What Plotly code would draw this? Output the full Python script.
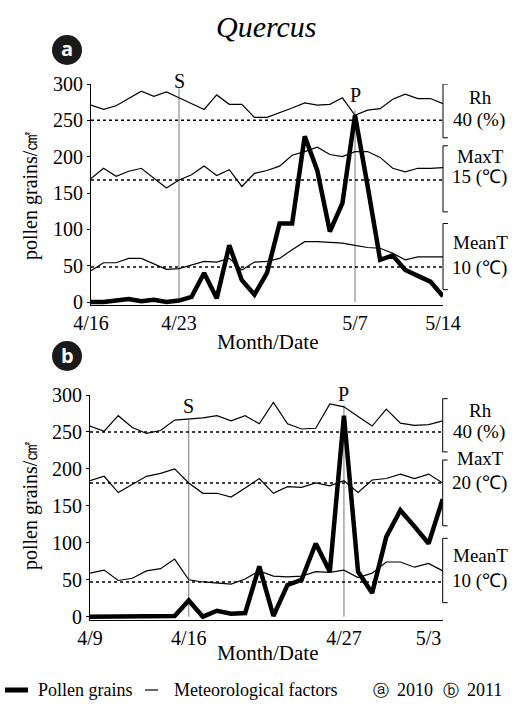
import plotly.graph_objects as go
import pandas as pd

# ---------------- data ----------------
# Panel a (2010): 4/16 .. 5/14, values on the pollen-axis scale
dates_a = pd.date_range("2010-04-16", "2010-05-14").strftime("%Y-%m-%d").tolist()
pollen_a = [0, 0, 2, 4, 1, 3, 0, 2, 7, 40, 5, 78, 30, 10, 40, 108, 108, 228, 181, 97,
            136, 257, 160, 58, 64, 44, 36, 28, 8]
rh_a = [271, 265, 270, 280, 290, 283, 289, 281, 273, 265, 285, 272, 272, 254, 254, 260,
        267, 274, 271, 272, 281, 257, 264, 266, 279, 286, 280, 280, 273]
maxt_a = [170, 184, 173, 180, 184, 170, 157, 168, 175, 187, 174, 182, 159, 177, 181, 187,
          202, 207, 213, 203, 200, 207, 207, 199, 184, 179, 184, 184, 185]
meant_a = [43, 54, 54, 60, 60, 52, 45, 46, 51, 56, 55, 60, 44, 55, 56, 60, 72, 83, 83, 82,
           81, 78, 75, 74, 67, 58, 62, 62, 62]
ref_a = [250, 168, 48]          # dotted reference levels: Rh 40 %, MaxT 15 C, MeanT 10 C
ticks_a = ["2010-04-16", "2010-04-23", "2010-05-07", "2010-05-14"]
ticktext_a = ["4/16", "4/23", "5/7", "5/14"]
start_a, peak_a = "2010-04-23", "2010-05-07"
reflabels_a = [("Rh", "40 (%)"), ("MaxT", "15 (℃)"), ("MeanT", "10 (℃)")]

# Panel b (2011): 4/9 .. 5/4
dates_b = pd.date_range("2011-04-09", "2011-05-04").strftime("%Y-%m-%d").tolist()
pollen_b = [0, 0, 0, 0, 0, 1, 1, 22, 0, 8, 4, 5, 68, 1, 43, 50, 99, 61, 272, 61, 32, 108,
            144, 122, 99, 159]
rh_b = [258, 251, 272, 256, 248, 252, 266, 267, 269, 272, 265, 272, 261, 290, 261, 254,
        255, 288, 284, 271, 258, 281, 262, 259, 260, 265]
maxt_b = [184, 190, 168, 179, 190, 194, 200, 181, 167, 167, 162, 174, 187, 167, 176, 175,
          181, 177, 184, 168, 185, 187, 193, 187, 193, 181]
meant_b = [59, 63, 49, 52, 62, 65, 78, 50, 47, 45, 44, 51, 62, 55, 54, 55, 61, 60, 63, 53,
           59, 74, 74, 67, 72, 62]
ref_b = [250, 181, 47]
ticks_b = ["2011-04-09", "2011-04-16", "2011-04-27", "2011-05-03"]
ticktext_b = ["4/9", "4/16", "4/27", "5/3"]
start_b, peak_b = "2011-04-16", "2011-04-27"
reflabels_b = [("Rh", "40 (%)"), ("MaxT", "20 (℃)"), ("MeanT", "10 (℃)")]

yticks = [0, 50, 100, 150, 200, 250, 300]

# ---------------- layout helpers ----------------
W, H = 516, 712
SERIF = "Liberation Serif"


def px(x):
    return x / W


def py(y):
    return 1 - y / H


def ann(text, x, y, size=17, family=SERIF, xanchor="center", yanchor="middle", **kw):
    d = dict(text=text, xref="paper", yref="paper", x=px(x), y=py(y), showarrow=False,
             xanchor=xanchor, yanchor=yanchor,
             font=dict(family=family, size=size, color="black"))
    d.update(kw)
    return d


fig = go.Figure()

panels = [
    dict(x="x", y="y", dates=dates_a, pollen=pollen_a, mets=[rh_a, maxt_a, meant_a],
         ref=ref_a, ticks=ticks_a, ticktext=ticktext_a, start=start_a, peak=peak_a,
         xdom=[px(91), px(443)], y0px=302, y300px=84, labels=reflabels_a,
         brackets=[(300, 226), (215, 124), (108, 17)], sline=294, pline=264,
         slabel=81, plabel=95, label_y=[(97, 120), (156, 177), (242, 268)],
         circle=(67, 50, "a"), mdate=342, ytitle=196),
    dict(x="x2", y="y2", dates=dates_b, pollen=pollen_b, mets=[rh_b, maxt_b, meant_b],
         ref=ref_b, ticks=ticks_b, ticktext=ticktext_b, start=start_b, peak=peak_b,
         xdom=[px(90), px(442.7)], y0px=616.7, y300px=395, labels=reflabels_b,
         brackets=[(295, 223), (212, 123), (106, 19)], sline=266, pline=286,
         slabel=406, plabel=394, label_y=[(410, 432), (458, 483), (555, 581)],
         circle=(67, 356, "b"), mdate=653, ytitle=506),
]

shapes = []
annotations = []

for i, p in enumerate(panels):
    xa = "xaxis" if i == 0 else "xaxis2"
    ya = "yaxis" if i == 0 else "yaxis2"
    scale = (p["y0px"] - p["y300px"]) / 300.0
    ymin = -4
    bottom_px = p["y0px"] - ymin * scale
    ydom = [py(bottom_px), py(p["y300px"])]

    for met in p["mets"]:
        fig.add_trace(go.Scatter(x=p["dates"], y=met, mode="lines", xaxis=p["x"], yaxis=p["y"],
                                 line=dict(color="black", width=1.2), showlegend=False,
                                 hoverinfo="skip"))
    fig.add_trace(go.Scatter(x=p["dates"], y=p["pollen"], mode="lines", xaxis=p["x"], yaxis=p["y"],
                             line=dict(color="black", width=4.5), showlegend=False))

    fig.update_layout({
        xa: dict(domain=p["xdom"], anchor=p["y"], type="date", automargin=False,
                 range=[p["dates"][0], p["dates"][-1]], tickvals=p["ticks"],
                 ticktext=p["ticktext"], showline=True, linecolor="black", linewidth=1.2,
                 showgrid=False, zeroline=False, ticks="",
                 tickfont=dict(family=SERIF, size=20, color="black")),
        ya: dict(domain=ydom, anchor=p["x"], range=[ymin, 300], tickvals=yticks,
                 automargin=False,
                 showline=True, linecolor="black", linewidth=1.2, showgrid=False,
                 zeroline=False, ticks="outside", ticklen=3, tickcolor="black",
                 tickfont=dict(family=SERIF, size=20, color="black")),
    })

    xr = p["x"]
    yr = p["y"]
    # dotted reference levels
    for lvl in p["ref"]:
        shapes.append(dict(type="line", xref=f"{xr} domain", yref=yr, x0=0, x1=1, y0=lvl, y1=lvl,
                           line=dict(color="black", width=1.5, dash="dot")))
    # right-side brackets
    for (top, bot) in p["brackets"]:
        shapes.append(dict(type="line", xref=f"{xr} domain", yref=yr, x0=1, x1=1, y0=bot, y1=top,
                           line=dict(color="black", width=1)))
        for v in (top, bot):
            shapes.append(dict(type="line", xref=f"{xr} domain", yref=yr, x0=1, x1=1.014,
                               y0=v, y1=v, line=dict(color="black", width=1)))
    # S and P lines
    shapes.append(dict(type="line", xref=xr, yref=yr, x0=p["start"], x1=p["start"], y0=0,
                       y1=p["sline"], line=dict(color="#777777", width=1), layer="below"))
    shapes.append(dict(type="line", xref=xr, yref=yr, x0=p["peak"], x1=p["peak"], y0=0,
                       y1=p["pline"], line=dict(color="#777777", width=1), layer="below"))
    annotations.append(dict(text="S", xref=xr, yref="paper", x=p["start"], y=py(p["slabel"]),
                            showarrow=False, font=dict(family=SERIF, size=20, color="black"),
                            xanchor="center", yanchor="middle"))
    annotations.append(dict(text="P", xref=xr, yref="paper", x=p["peak"], y=py(p["plabel"]),
                            showarrow=False, font=dict(family=SERIF, size=20, color="black"),
                            xanchor="center", yanchor="middle"))
    # right labels
    for (name, val), (yn, yv) in zip(p["labels"], p["label_y"]):
        annotations.append(ann(name, 480, yn, size=19))
        annotations.append(ann(val, 479, yv, size=19))
    # circled panel letter
    cx, cy, letter = p["circle"]
    shapes.append(dict(type="circle", xref="paper", yref="paper", x0=px(cx - 15), x1=px(cx + 15),
                       y0=py(cy + 15), y1=py(cy - 15), fillcolor="#1a1a1a",
                       line=dict(color="#1a1a1a", width=0)))
    annotations.append(ann(f"<b>{letter}</b>", cx, cy - 1, size=20, family="Open Sans",
                           font=dict(family="Open Sans", size=20, color="white")))
    # axis titles
    annotations.append(ann("Month/Date", 267, p["mdate"], size=21))
    annotations.append(ann("pollen grains/㎠", 30, p["ytitle"], size=20, textangle=-90))

# title
annotations.append(ann("<i>Quercus</i>", 266, 27, size=30))

# legend
LY = 690
shapes.append(dict(type="line", xref="paper", yref="paper", x0=px(5), x1=px(28), y0=py(LY),
                   y1=py(LY), line=dict(color="black", width=5)))
shapes.append(dict(type="line", xref="paper", yref="paper", x0=px(145), x1=px(158), y0=py(LY),
                   y1=py(LY), line=dict(color="black", width=1.2)))
for txt, x0 in [("Pollen grains", 36), ("Meteorological factors", 172)]:
    annotations.append(ann(txt, x0, LY, size=18, xanchor="left"))
for sym, txt, x0 in [("ⓐ", "2010", 371), ("ⓑ", "2011", 441)]:
    annotations.append(ann(sym, x0, LY, size=16, family="DejaVu Sans", xanchor="left"))
    annotations.append(ann(txt, x0 + 24, LY, size=18, xanchor="left"))

fig.update_layout(width=W, height=H,
                  margin=dict(l=0, r=0, t=0, b=0, pad=0, autoexpand=False),
                  paper_bgcolor="white", plot_bgcolor="white", showlegend=False,
                  template="none",
                  shapes=shapes, annotations=annotations)

fig.write_html("out.html", config={"displayModeBar": False},
               post_script="document.body.style.margin='0';document.body.style.overflow='hidden';")
